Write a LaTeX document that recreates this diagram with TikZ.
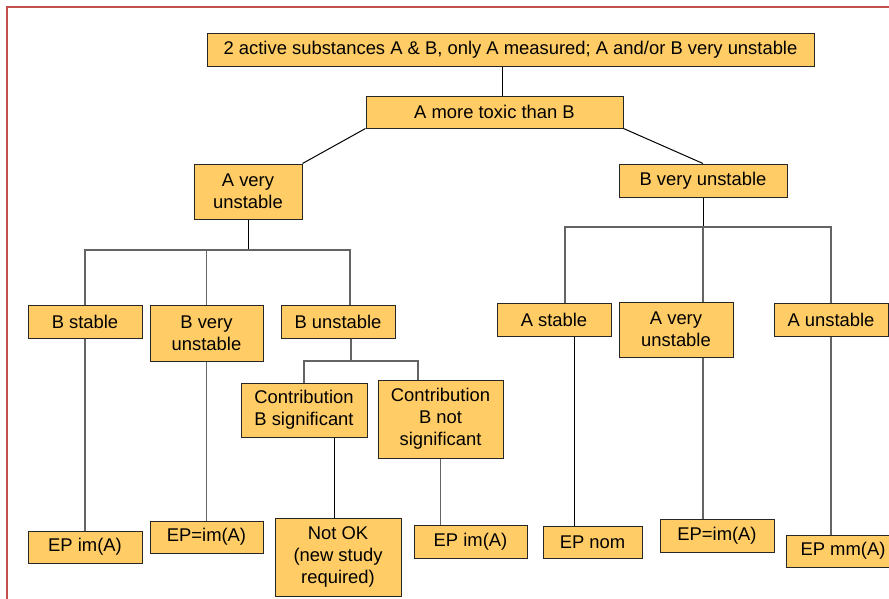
\documentclass[tikz,border=0pt]{standalone}
\usepackage{fontspec}
\setmainfont{Liberation Sans}
\definecolor{boxfill}{RGB}{255,204,102}
\definecolor{framered}{RGB}{192,80,77}
\definecolor{linegray}{RGB}{100,100,100}
\tikzset{
  box/.style 2 args={draw=black!85, fill=boxfill, line width=1pt, align=center, inner sep=1pt,
    minimum width=#1pt, minimum height=#2pt, font=\fontsize{18.4}{22}\selectfont},
  link/.style={draw=black, line width=1pt},
  glink/.style={draw=linegray, line width=1.4pt}
}
\begin{document}
\begin{tikzpicture}[x=1pt,y=-1pt]
\useasboundingbox (0,0) rectangle (889,598);
\clip (0,0) rectangle (889,598);
\draw[framered, line width=2pt] (7,610) -- (7,7) -- (900,7);
\node[box={607}{33}] (head) at (510.5,49.5) {2 active substances A \& B, only A measured; A and/or B very unstable};
\node[box={257}{32}] (tox) at (494.5,112) {A more toxic than B};
\node[box={108}{55}] (averyL) at (248,191.5) {A very\\unstable};
\node[box={168}{33}] (bveryR) at (703,180.5) {B very unstable};
\node[box={114}{33}] (bstab) at (85,321.5) {B stable};
\node[box={113}{56}] (bvery) at (206.5,333) {B very\\unstable};
\node[box={114}{33}] (bunst) at (338,321.5) {B unstable};
\node[box={126}{54}] (csig) at (304,410) {Contribution\\B significant};
\node[box={125}{78}] (cnsig) at (440.5,419) {Contribution\\B not\\significant};
\node[box={114}{32}] (epbstab) at (85,547) {EP im(A)};
\node[box={113}{32}] (epbvery) at (206.5,537) {EP=im(A)};
\node[box={126}{78}] (notok) at (338,557) {Not OK\\(new study\\required)};
\node[box={113}{33}] (epcnsig) at (470.5,541.5) {EP im(A)};
\node[box={114}{33}] (astab) at (554,319.5) {A stable};
\node[box={114}{55}] (avery) at (676,329.5) {A very\\unstable};
\node[box={114}{33}] (aunst) at (831,319.5) {A unstable};
\node[box={99}{32}] (epastab) at (592.5,542) {EP nom};
\node[box={114}{33}] (epavery) at (717,535.5) {EP=im(A)};
\node[box={114}{32}] (epaunst) at (843,551) {EP mm(A)};
\draw[link] ([xshift=-8pt]head.south) -- ([xshift=-8pt]head.south |- tox.north);
\draw[link] (tox.south west) -- (averyL.north east);
\draw[link] (tox.south east) -- (bveryR.north);
\coordinate (forkL) at (248,250);
\draw[link] (averyL.south) -- (forkL);
\draw[glink] (bstab.north) |- (forkL) -| ([xshift=12pt]bunst.north);
\draw[glink] (bvery.north) -- (bvery.north |- forkL);
\coordinate (forkB) at (351,361);
\draw[glink] ([xshift=13pt]bunst.south) -- (forkB);
\draw[glink] (csig.north) |- (forkB) -| ([xshift=-22.5pt]cnsig.north);
\draw[link] ([xshift=-4pt]notok.north) -- ([xshift=-4pt]notok.north |- csig.south);
\draw[glink] (bstab) -- (epbstab);
\draw[glink] (bvery) -- (epbvery);
\draw[glink] (cnsig.south) -- (cnsig.south |- epcnsig.north);
\coordinate (forkR) at (703,227);
\draw[link] (bveryR.south) -- (forkR);
\draw[glink] ([xshift=11pt]astab.north) |- (forkR) -| (aunst.north);
\draw[glink] (forkR) -- (forkR |- avery.north);
\draw[link] ([xshift=20pt]astab.south) -- ([xshift=20pt]astab.south |- epastab.north);
\draw[glink] ([xshift=27pt]avery.south) -- ([xshift=27pt]avery.south |- epavery.north);
\draw[glink] (aunst.south) -- (aunst.south |- epaunst.north);
\end{tikzpicture}
\end{document}
